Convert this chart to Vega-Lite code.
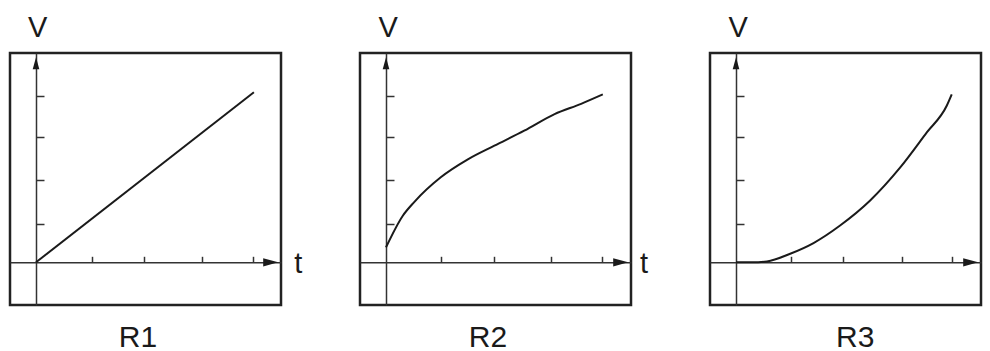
{
  "$schema": "https://vega.github.io/schema/vega-lite/v6.json",
  "background": "white",
  "padding": {"left": 8, "top": 12, "right": 0, "bottom": 0},
  "bounds": "flush",
  "spacing": 79,
  "config": {
    "view": {"stroke": "#222", "strokeWidth": 2.5},
    "axisX": {"orient": "bottom", "offset": -42.7, "labels": false, "grid": false, "tickSize": -6, "tickWidth": 1.5, "tickColor": "#333", "domainColor": "#333", "domainWidth": 1.5},
    "axisY": {"orient": "left", "offset": -26, "labels": false, "grid": false, "tickSize": -8, "tickWidth": 1.5, "tickColor": "#333", "domainColor": "#333", "domainWidth": 1.5},
    "text": {"font": "Liberation Sans, Arial, sans-serif", "color": "#1a1a1a"}
  },
  "datasets": {
    "r1": [{"t": 0, "V": 0}, {"t": 4.02, "V": 3.98}],
    "r2": [
      {"t": 0, "V": 0.35}, {"t": 0.31, "V": 1.09}, {"t": 0.52, "V": 1.41}, {"t": 1.01, "V": 1.99},
      {"t": 1.51, "V": 2.41}, {"t": 2.0, "V": 2.73}, {"t": 2.55, "V": 3.08}, {"t": 3.11, "V": 3.47},
      {"t": 3.6, "V": 3.71}, {"t": 4.0, "V": 3.93}
    ],
    "r3": [
      {"t": 0, "V": 0}, {"t": 0.3, "V": 0.0}, {"t": 0.57, "V": 0.02}, {"t": 1.0, "V": 0.2},
      {"t": 1.43, "V": 0.45}, {"t": 1.92, "V": 0.86}, {"t": 2.47, "V": 1.44}, {"t": 3.03, "V": 2.22},
      {"t": 3.52, "V": 3.04}, {"t": 3.89, "V": 3.67}, {"t": 3.98, "V": 3.93}
    ],
    "up": [{"t": 0, "V": 4.66}],
    "right": [{"t": 4.33, "V": 0}],
    "axlab1": [{"t": 0.03, "V": 5.27, "label": "V"}, {"t": 4.84, "V": -0.26, "label": "t"}],
    "axlab2": [{"t": 0.04, "V": 5.27, "label": "V"}, {"t": 4.76, "V": -0.26, "label": "t"}],
    "axlab3": [{"t": 0.04, "V": 5.27, "label": "V"}],
    "name1": [{"t": 1.88, "V": -1.98, "label": "R1"}],
    "name2": [{"t": 1.88, "V": -1.98, "label": "R2"}],
    "name3": [{"t": 2.2, "V": -1.98, "label": "R3"}]
  },
  "hconcat": [
    {
      "width": 271, "height": 252,
      "encoding": {
        "x": {"field": "t", "type": "quantitative", "scale": {"domain": [-0.48, 4.52], "nice": false, "zero": false}, "axis": {"title": null, "values": [1.03, 1.99, 3.06, 4.0]}},
        "y": {"field": "V", "type": "quantitative", "scale": {"domain": [-1, 4.9], "nice": false, "zero": false}, "axis": {"title": null, "values": [0.89, 1.92, 2.93, 3.89]}}
      },
      "layer": [
        {"data": {"name": "r1"}, "mark": {"type": "line", "color": "#1a1a1a", "strokeWidth": 2}},
        {"data": {"name": "up"}, "mark": {"type": "point", "shape": "M0,-1L0.55,1L-0.55,1Z", "size": 144, "filled": true, "color": "#1a1a1a", "opacity": 1}},
        {"data": {"name": "right"}, "mark": {"type": "point", "shape": "M1,0L-1,0.55L-1,-0.55Z", "size": 225, "filled": true, "color": "#1a1a1a", "opacity": 1}},
        {"data": {"name": "axlab1"}, "mark": {"type": "text", "fontSize": 29, "baseline": "alphabetic", "align": "center"}, "encoding": {"text": {"field": "label"}}},
        {"data": {"name": "name1"}, "mark": {"type": "text", "fontSize": 30, "baseline": "alphabetic", "align": "center"}, "encoding": {"text": {"field": "label"}}}
      ]
    },
    {
      "width": 271, "height": 252,
      "encoding": {
        "x": {"field": "t", "type": "quantitative", "scale": {"domain": [-0.48, 4.52], "nice": false, "zero": false}, "axis": {"title": null, "values": [1.01, 1.99, 3.04, 3.99]}},
        "y": {"field": "V", "type": "quantitative", "scale": {"domain": [-1, 4.9], "nice": false, "zero": false}, "axis": {"title": null, "values": [0.89, 1.92, 2.93, 3.89]}}
      },
      "layer": [
        {"data": {"name": "r2"}, "mark": {"type": "line", "color": "#1a1a1a", "strokeWidth": 2, "interpolate": "monotone"}},
        {"data": {"name": "up"}, "mark": {"type": "point", "shape": "M0,-1L0.55,1L-0.55,1Z", "size": 144, "filled": true, "color": "#1a1a1a", "opacity": 1}},
        {"data": {"name": "right"}, "mark": {"type": "point", "shape": "M1,0L-1,0.55L-1,-0.55Z", "size": 225, "filled": true, "color": "#1a1a1a", "opacity": 1}},
        {"data": {"name": "axlab2"}, "mark": {"type": "text", "fontSize": 29, "baseline": "alphabetic", "align": "center"}, "encoding": {"text": {"field": "label"}}},
        {"data": {"name": "name2"}, "mark": {"type": "text", "fontSize": 30, "baseline": "alphabetic", "align": "center"}, "encoding": {"text": {"field": "label"}}}
      ]
    },
    {
      "width": 271, "height": 252,
      "encoding": {
        "x": {"field": "t", "type": "quantitative", "scale": {"domain": [-0.48, 4.52], "nice": false, "zero": false}, "axis": {"title": null, "values": [1.01, 1.98, 3.06, 3.99]}},
        "y": {"field": "V", "type": "quantitative", "scale": {"domain": [-1, 4.9], "nice": false, "zero": false}, "axis": {"title": null, "values": [0.89, 1.92, 2.93, 3.89]}}
      },
      "layer": [
        {"data": {"name": "r3"}, "mark": {"type": "line", "color": "#1a1a1a", "strokeWidth": 2, "interpolate": "monotone"}},
        {"data": {"name": "up"}, "mark": {"type": "point", "shape": "M0,-1L0.55,1L-0.55,1Z", "size": 144, "filled": true, "color": "#1a1a1a", "opacity": 1}},
        {"data": {"name": "right"}, "mark": {"type": "point", "shape": "M1,0L-1,0.55L-1,-0.55Z", "size": 225, "filled": true, "color": "#1a1a1a", "opacity": 1}},
        {"data": {"name": "axlab3"}, "mark": {"type": "text", "fontSize": 29, "baseline": "alphabetic", "align": "center"}, "encoding": {"text": {"field": "label"}}},
        {"data": {"name": "name3"}, "mark": {"type": "text", "fontSize": 30, "baseline": "alphabetic", "align": "center"}, "encoding": {"text": {"field": "label"}}}
      ]
    }
  ]
}
